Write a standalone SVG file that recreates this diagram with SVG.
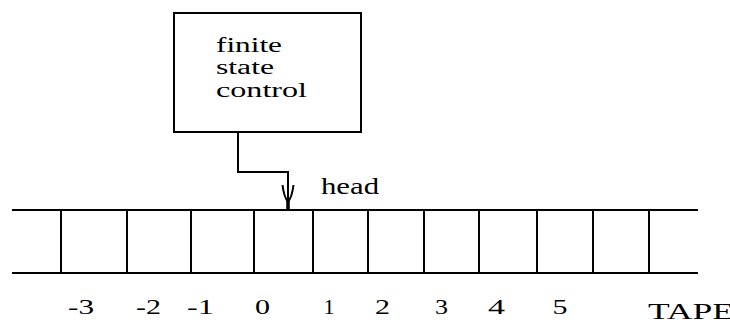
<svg xmlns="http://www.w3.org/2000/svg" width="730" height="324" viewBox="0 0 730 324">
<style>
.ln{stroke:#000;stroke-width:2;fill:none}
.t{font-family:"Liberation Serif","Times New Roman",serif;fill:#000}
.lbl{font-size:21px;text-anchor:middle}
.box{font-size:20px}
</style>
<defs>
<marker id="head" markerUnits="userSpaceOnUse" markerWidth="30" markerHeight="16" viewBox="0 0 30 16" refX="30" refY="8" orient="auto" overflow="visible">
<path d="M5,2.5 Q17,4 22,8 M5,13.5 Q17,12 22,8" stroke="#000" stroke-width="2" fill="none"/>
<path d="M19,8 L30,8" stroke="#000" stroke-width="3.5" fill="none"/>
</marker>
</defs>
<rect width="730" height="324" fill="#fff"/>
<g id="control">
<rect class="ln" x="174" y="13" width="187" height="119"/>
<text class="t box" x="216" y="51.5" textLength="66" lengthAdjust="spacingAndGlyphs">finite</text>
<text class="t box" x="216" y="74" textLength="58" lengthAdjust="spacingAndGlyphs">state</text>
<text class="t box" x="216" y="97" textLength="91" lengthAdjust="spacingAndGlyphs">control</text>
</g>
<g id="tape">
<path class="ln" d="M12,210 H698 M12,273 H698"/>
<path class="ln" d="M61,210 V273 M127,210 V273 M191,210 V273 M254,210 V273 M313,210 V273 M368,210 V273 M424,210 V273 M479,210 V273 M537,210 V273 M593,210 V273 M649,210 V273"/>
<text class="t lbl" x="81" y="314" textLength="26" lengthAdjust="spacingAndGlyphs">-3</text>
<text class="t lbl" x="148.5" y="314" textLength="25" lengthAdjust="spacingAndGlyphs">-2</text>
<text class="t lbl" x="200.5" y="314" textLength="27" lengthAdjust="spacingAndGlyphs">-1</text>
<text class="t lbl" x="262.5" y="314" textLength="15" lengthAdjust="spacingAndGlyphs">0</text>
<text class="t lbl" x="329" y="314" textLength="11" lengthAdjust="spacingAndGlyphs">1</text>
<text class="t lbl" x="382.5" y="314" textLength="15" lengthAdjust="spacingAndGlyphs">2</text>
<text class="t lbl" x="441.5" y="314" textLength="13" lengthAdjust="spacingAndGlyphs">3</text>
<text class="t lbl" x="496.5" y="314" textLength="17" lengthAdjust="spacingAndGlyphs">4</text>
<text class="t lbl" x="560" y="314" textLength="15" lengthAdjust="spacingAndGlyphs">5</text>
<text class="t" font-size="24" x="648" y="319" textLength="86" lengthAdjust="spacingAndGlyphs">TAPE</text>
</g>
<g id="connectors">
<path class="ln" d="M238,132 V172 H288 V210" marker-end="url(#head)"/>
<text class="t" font-size="24" x="321" y="194" textLength="58" lengthAdjust="spacingAndGlyphs">head</text>
</g>
</svg>
